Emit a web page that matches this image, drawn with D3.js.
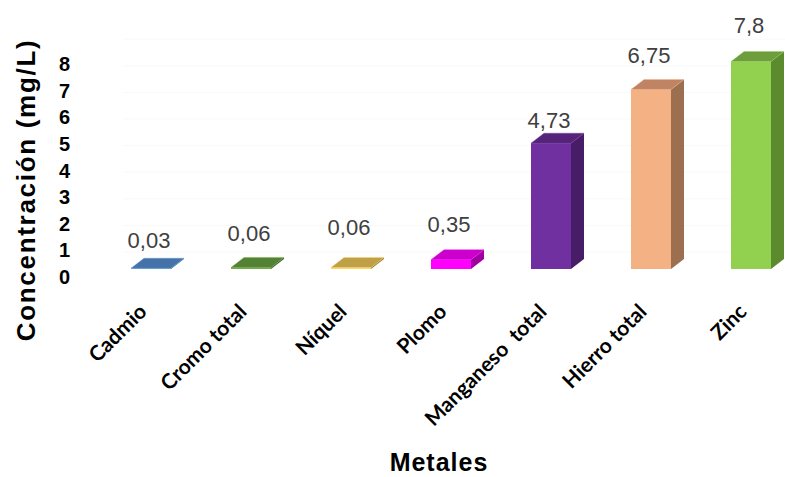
<!DOCTYPE html>
<html>
<head>
<meta charset="utf-8">
<script src="https://cdn.jsdelivr.net/npm/d3@7/dist/d3.min.js"></script>
<style>
  html, body { margin: 0; padding: 0; background: #ffffff; }
  svg { display: block; }
</style>
</head>
<body>
<svg id="chart" width="785" height="477"></svg>
<script>
// Metal concentrations (mg/L)
const categories = ["Cadmio", "Cromo total", "Níquel", "Plomo", "Manganeso  total", "Hierro total", "Zinc"];
const values = [0.03, 0.06, 0.06, 0.35, 4.73, 6.75, 7.8];
const valueLabels = ["0,03", "0,06", "0,06", "0,35", "4,73", "6,75", "7,8"];
const yTicks = [0, 1, 2, 3, 4, 5, 6, 7, 8];

// Face colours for each bar: front, top, side
const frontColors = ["#5b9bd5", "#70ad47", "#ffd966", "#ff00ff", "#7030a0", "#f4b183", "#92d050"];
const topColors   = ["#4573a9", "#548235", "#bfa046", "#cc00cc", "#55247a", "#c08464", "#6e9e3c"];
const sideColors  = ["#2e5f8f", "#3f6428", "#9c8030", "#a000a0", "#461d66", "#9c6f50", "#5c8a2f"];
// small vertical nudges for the value labels
const labelNudge = [5, -1, -7, -3, 10, -1, -4];

const svg = d3.select("#chart");
const W = 785, H = 477;
svg.append("rect").attr("width", W).attr("height", H).attr("fill", "#ffffff");

const x = d3.scalePoint().domain(categories).range([151, 751]);
const y = d3.scaleLinear().domain([0, 8]).range([269, 56.2]);
const barW = 40, depthX = 13, depthY = -10;

// faint back-wall gridlines
svg.append("g").selectAll("line").data(yTicks).join("line")
  .attr("x1", 123).attr("x2", 785)
  .attr("y1", d => y(d) - 17).attr("y2", d => y(d) - 17)
  .attr("stroke", "#f9f9f9").attr("stroke-width", 1);

// y tick labels
const yAxis = d3.axisLeft(y).tickValues(yTicks).tickSize(0).tickPadding(0).tickFormat(d3.format("d"));
const gy = svg.append("g").attr("transform", "translate(70,8)").call(yAxis);
gy.select(".domain").remove();
gy.selectAll("text")
  .attr("font-family", "'Liberation Sans', Arial, sans-serif")
  .attr("font-weight", "bold").attr("font-size", 20).attr("fill", "#000");

// 3D bars
const bars = svg.append("g").selectAll("g").data(values).join("g");
bars.each(function (v, i) {
  const g = d3.select(this);
  const x0 = x(categories[i]) - barW / 2, x1 = x0 + barW;
  const yt = y(v), yb = y(0);
  // side face
  g.append("polygon")
    .attr("points", [[x1, yt], [x1 + depthX, yt + depthY], [x1 + depthX, yb + depthY], [x1, yb]].join(" "))
    .attr("fill", sideColors[i]);
  // front face
  g.append("rect").attr("x", x0).attr("y", yt).attr("width", barW).attr("height", Math.max(yb - yt, 0.8))
    .attr("fill", frontColors[i]);
  // top face
  g.append("polygon")
    .attr("points", [[x0, yt], [x0 + depthX, yt + depthY], [x1 + depthX, yt + depthY], [x1, yt]].join(" "))
    .attr("fill", topColors[i])
    .attr("stroke", frontColors[i]).attr("stroke-width", 0.6).attr("stroke-opacity", 0.6);
});

// value labels
svg.append("g").selectAll("text").data(values).join("text")
  .attr("x", (d, i) => x(categories[i]) - 2)
  .attr("y", (d, i) => y(d) - 25 + labelNudge[i])
  .attr("text-anchor", "middle")
  .attr("font-family", "'Liberation Sans', Arial, sans-serif")
  .attr("font-size", 22).attr("fill", "#404040")
  .text((d, i) => valueLabels[i]);

// category labels
svg.append("g").selectAll("text").data(categories).join("text")
  .attr("transform", d => `translate(${x(d) - 3},${313}) rotate(-45)`)
  .attr("text-anchor", "end")
  .attr("font-family", "Lato, 'Open Sans', sans-serif")
  .attr("font-weight", "bold").attr("font-size", 21).attr("fill", "#000")
  .attr("xml:space", "preserve")
  .style("white-space", "pre")
  .text(d => d);

// axis titles
svg.append("text")
  .attr("transform", "translate(35,190) rotate(-90)")
  .attr("text-anchor", "middle")
  .attr("font-family", "'Liberation Sans', Arial, sans-serif")
  .attr("font-weight", "bold").attr("font-size", 26).attr("letter-spacing", 1.7).attr("fill", "#000")
  .text("Concentración (mg/L)");

svg.append("text")
  .attr("x", 439).attr("y", 471)
  .attr("text-anchor", "middle")
  .attr("font-family", "'Liberation Sans', Arial, sans-serif")
  .attr("font-weight", "bold").attr("font-size", 25).attr("letter-spacing", 1).attr("fill", "#000")
  .text("Metales");
</script>
</body>
</html>
